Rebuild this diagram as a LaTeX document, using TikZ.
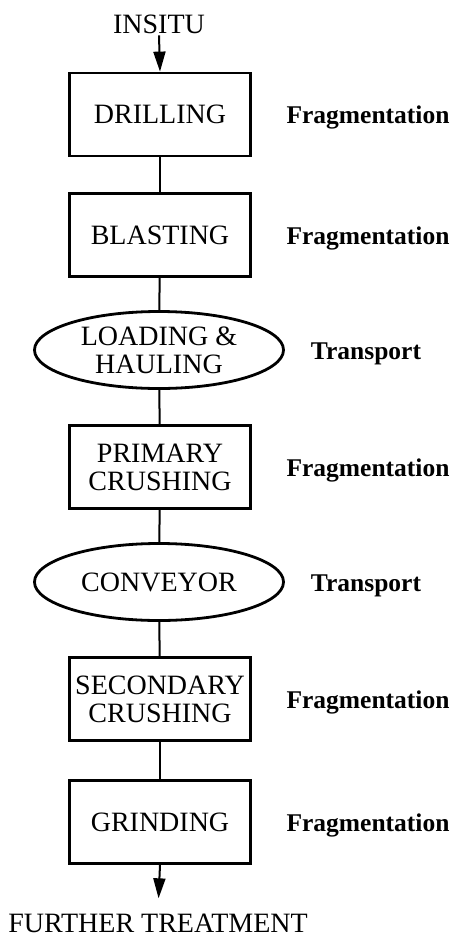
\documentclass[tikz,border=0pt]{standalone}
\usepackage{fontspec}
\setmainfont{Liberation Serif}
\usetikzlibrary{arrows.meta,shapes.geometric}
\begin{document}
\begin{tikzpicture}[x=1pt,y=-1pt,
  txt/.style={font=\fontsize{28}{28}\selectfont},
  box/.style={txt, draw, line width=2.8pt, minimum width=181pt, minimum height=83pt, inner sep=0pt, align=center},
  oval/.style={txt, draw, ellipse, line width=2.8pt, minimum width=249pt, minimum height=77pt, inner sep=0pt, align=center},
  lab/.style={font=\bfseries\fontsize{25.5}{28}\selectfont, anchor=base},
  conn/.style={line width=2pt},
  arr/.style={conn, -{Triangle[length=20pt,width=12pt]}}
]
\useasboundingbox (0,0) rectangle (455,938);
\fill[white] (0,0) rectangle (455,938);
\node[txt, anchor=base, inner sep=2pt] (insitu) at (159,33) {INSITU};
\node[box] (drill) at (160,114.5) {DRILLING};
\node[box] (blast) at (160,235) {BLASTING};
\node[oval] (load) at (159,350) {LOADING \&\\HAULING};
\node[box] (prim) at (160,467) {PRIMARY\\CRUSHING};
\node[oval] (conv) at (159,582) {CONVEYOR};
\node[box] (sec) at (160,699) {SECONDARY\\CRUSHING};
\node[box] (grind) at (160,822) {GRINDING};
\node[txt, anchor=base, inner sep=2pt] (further) at (158,932) {FURTHER TREATMENT};

\node[lab] (l1) at (368,123) {Fragmentation};
\node[lab] (l2) at (368,244) {Fragmentation};
\node[lab] (l3) at (366,359) {Transport};
\node[lab] (l4) at (368,476) {Fragmentation};
\node[lab] (l5) at (366,591) {Transport};
\node[lab] (l6) at (368,708) {Fragmentation};
\node[lab] (l7) at (368,831) {Fragmentation};

\draw[arr] (insitu.south) -- (drill.north);
\draw[conn] (drill) -- (blast);
\draw[conn] (blast) -- (load);
\draw[conn] (load) -- (prim);
\draw[conn] (prim) -- (conv);
\draw[conn] (conv) -- (sec);
\draw[conn] (sec) -- (grind);
\draw[arr, shorten >=13pt] (grind.south) -- (further.north);
\end{tikzpicture}
\end{document}
